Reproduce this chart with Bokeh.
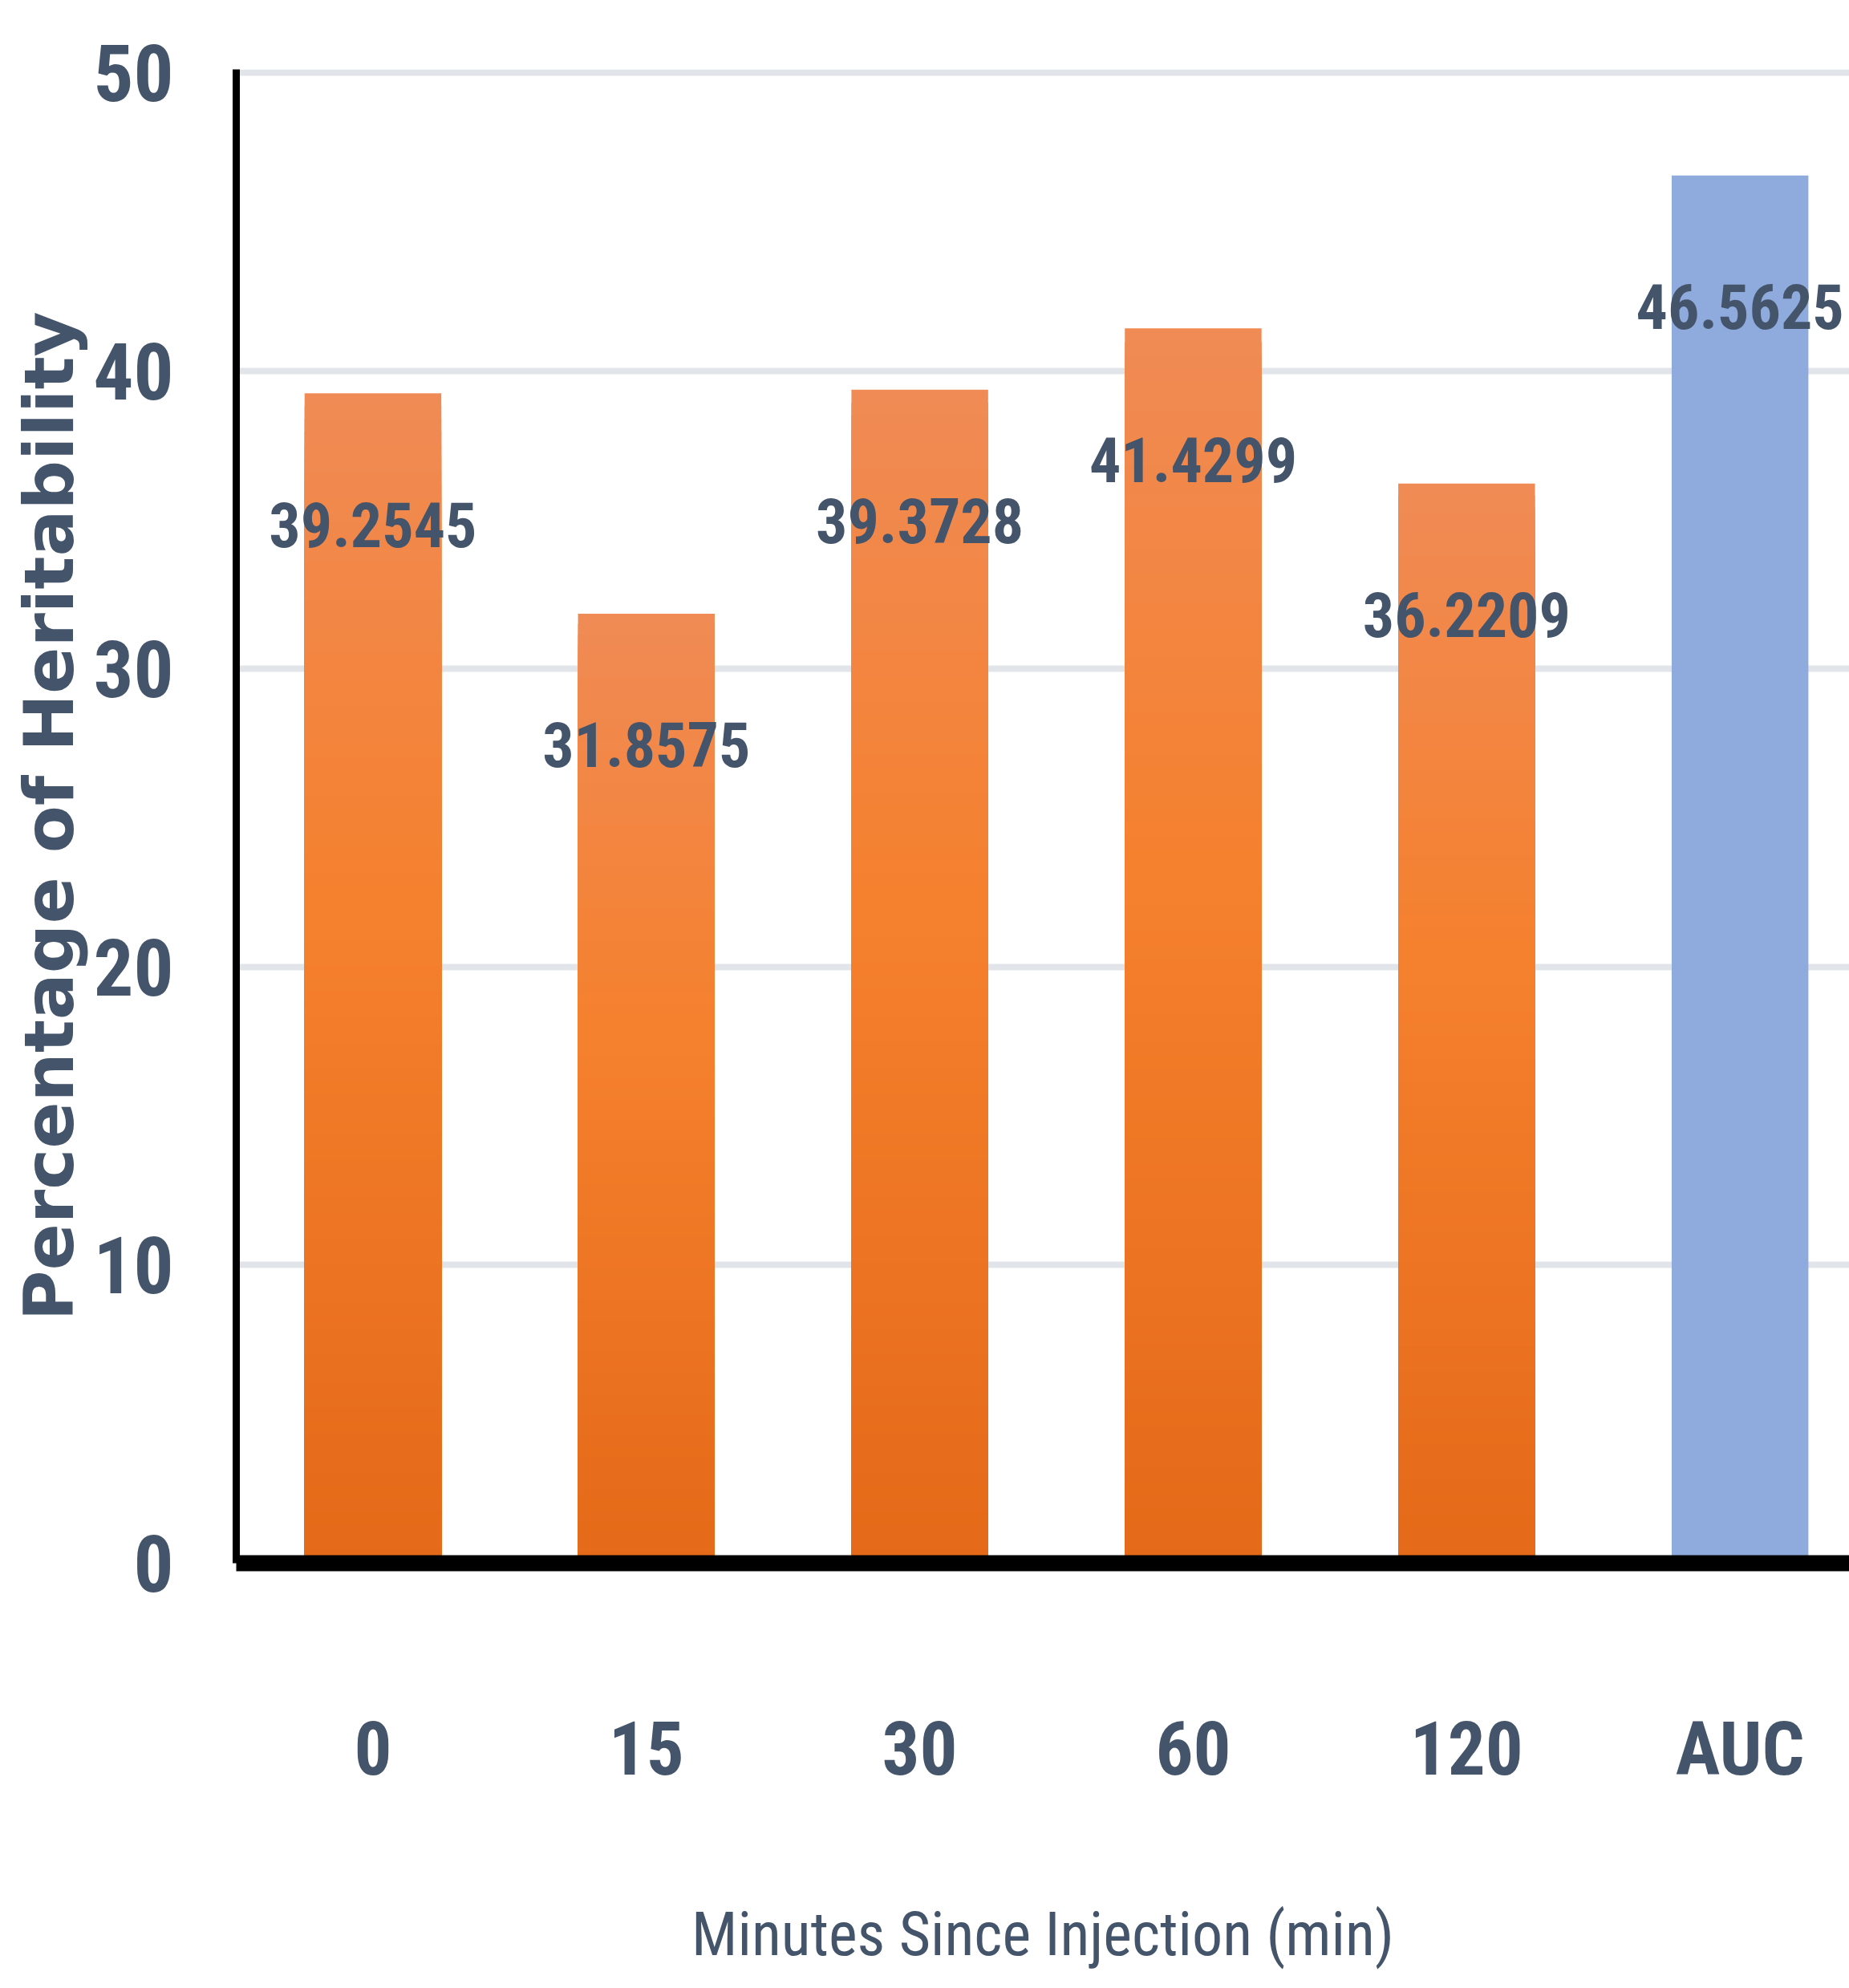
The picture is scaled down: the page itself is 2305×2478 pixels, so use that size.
from bokeh.plotting import figure
from bokeh.models import ColumnDataSource, Range1d, FixedTicker, CustomJSTickFormatter
from bokeh.core.properties import value
from bokeh.embed import file_html
from bokeh.resources import INLINE

# Heritability (%) per sampling time after injection, plus the AUC summary
categories = ["0", "15", "30", "60", "120", "AUC"]
heritability = [39.2545, 31.8575, 39.3728, 41.4299, 36.2209, 46.5625]
y_ticks = [0, 10, 20, 30, 40, 50]

TEXT = "#44546a"
NARROW = ("Noto Sans ExtraCondensed, Noto Sans Condensed, Roboto Condensed, "
          "DejaVu Sans Condensed, Liberation Sans Narrow, Roboto")

# Vertical gradient for the time-point bars: (fraction of bar height, rgb)
GRAD_STOPS = [(0.0, (228, 105, 24)), (0.55, (245, 128, 45)), (1.0, (240, 139, 85))]
AUC_COLOR = "#8faadc"
N_SLICES = 90


def grad_color(f):
    for (f0, c0), (f1, c1) in zip(GRAD_STOPS[:-1], GRAD_STOPS[1:]):
        if f0 <= f <= f1:
            t = (f - f0) / (f1 - f0)
            r, g, b = (round(a + (b_ - a) * t) for a, b_ in zip(c0, c1))
            return f"#{r:02x}{g:02x}{b:02x}"
    return "#%02x%02x%02x" % GRAD_STOPS[-1][1]


xs = list(range(len(categories)))

# nested rectangles, tallest first, so each bar shades from top colour to bottom colour
bx, btop, bcol = [], [], []
for k in range(N_SLICES, 0, -1):
    frac = k / N_SLICES
    col = grad_color(frac - 0.5 / N_SLICES)
    for i, v in enumerate(heritability[:5]):
        bx.append(xs[i])
        btop.append(v * frac)
        bcol.append(col)
grad_src = ColumnDataSource(dict(x=bx, top=btop, color=bcol))
auc_src = ColumnDataSource(dict(x=[xs[5]], top=[heritability[5]]))

label_src = ColumnDataSource(dict(
    x=xs,
    y=[v - 4.4 for v in heritability],
    text=[f"{v:.4f}" for v in heritability],
))

p = figure(
    width=2305, height=2478,
    x_range=Range1d(-0.5, 5.40), y_range=Range1d(0, 50.12),
    output_backend="svg", toolbar_location=None,
    min_border_left=294, min_border_right=0, min_border_top=86, min_border_bottom=530,
    background_fill_color="white", border_fill_color="white",
)
p.outline_line_color = None

p.vbar(x="x", top="top", bottom=0, width=0.5, source=grad_src,
       fill_color="color", line_color=None)
p.vbar(x="x", top="top", bottom=0, width=0.5, source=auc_src,
       fill_color=AUC_COLOR, line_color=None)

p.text(x="x", y="y", text="text", source=label_src,
       text_align="center", text_baseline="middle",
       text_font=value(NARROW), text_font_style="bold",
       text_font_size="78px", text_color=TEXT)

# grid
p.xgrid.visible = False
p.ygrid.ticker = FixedTicker(ticks=y_ticks)
p.ygrid.grid_line_color = "#e1e5ea"
p.ygrid.grid_line_width = 8

# x axis: integer positions labelled with the category names
xa = p.xaxis[0]
xa.ticker = FixedTicker(ticks=xs)
xa.formatter = CustomJSTickFormatter(
    args=dict(labels=categories),
    code="const i = Math.round(tick); return (i >= 0 && i < labels.length) ? labels[i] : '';",
)
xa.axis_line_color = "black"
xa.axis_line_width = 20
xa.major_tick_line_color = None
xa.minor_tick_line_color = None
xa.major_tick_out = 0
xa.major_label_standoff = 177
xa.major_label_text_font = NARROW
xa.major_label_text_font_style = "bold"
xa.major_label_text_font_size = "93px"
xa.major_label_text_color = TEXT
xa.axis_label = "Minutes Since Injection (min)"
xa.axis_label_standoff = 128
xa.axis_label_text_font = NARROW
xa.axis_label_text_font_style = "normal"
xa.axis_label_text_font_size = "76px"
xa.axis_label_text_color = TEXT

# y axis
ya = p.yaxis[0]
ya.ticker = FixedTicker(ticks=y_ticks)
ya.axis_line_color = "black"
ya.axis_line_width = 9
ya.major_tick_line_color = None
ya.minor_tick_line_color = None
ya.major_tick_out = 0
ya.major_label_standoff = 78
ya.major_label_text_font = NARROW
ya.major_label_text_font_style = "bold"
ya.major_label_text_font_size = "99px"
ya.major_label_text_color = TEXT
ya.axis_label = "Percentage of Heritability"
ya.axis_label_standoff = 2
ya.axis_label_text_font = "DejaVu Sans"
ya.axis_label_text_font_style = "bold"
ya.axis_label_text_font_size = "86px"
ya.axis_label_text_color = TEXT

open("out.html", "w").write(file_html(p, INLINE))
